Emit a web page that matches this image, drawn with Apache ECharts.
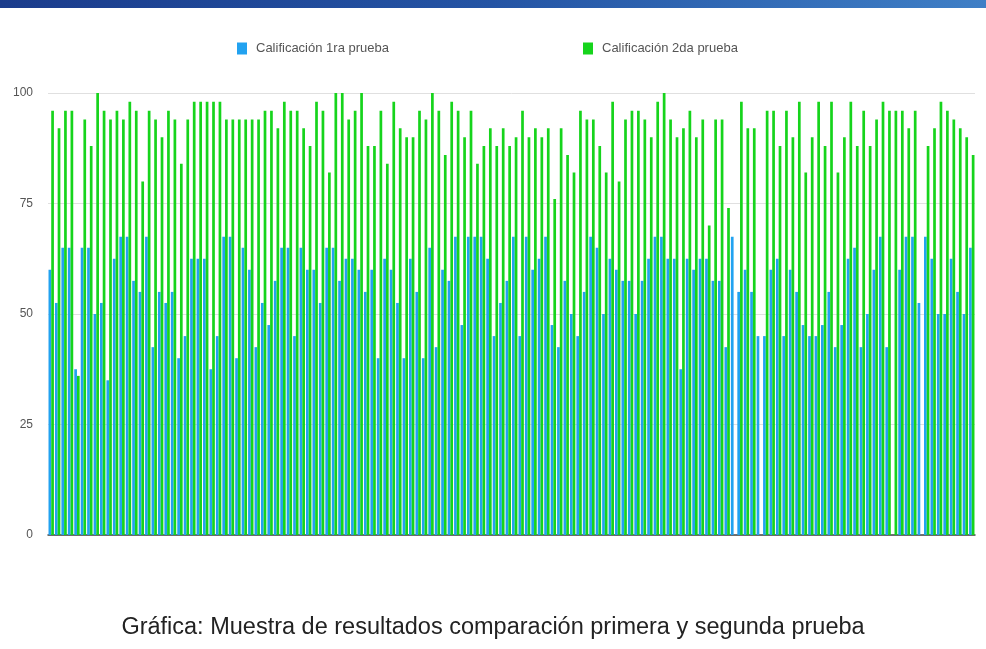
<!DOCTYPE html>
<html>
<head>
<meta charset="utf-8">
<script src="https://cdn.jsdelivr.net/npm/echarts@6/dist/echarts.min.js"></script>
<style>
  html, body { margin: 0; padding: 0; background: #fff; }
  #chart { width: 986px; height: 649px; }
</style>
</head>
<body>
<div id="chart"></div>
<script>
// one value per student
const primera = [
  60, 52.5, 65, 65, 37.5, 65, 65, 50, 52.5, 35, 62.5, 67.5, 67.5, 57.5, 55, 67.5, 42.5, 55, 52.5, 55, 40, 45,
  62.5, 62.5, 62.5, 37.5, 45, 67.5, 67.5, 40, 65, 60, 42.5, 52.5, 47.5, 57.5, 65, 65, 45, 65, 60, 60, 52.5, 65, 65, 57.5,
  62.5, 62.5, 60, 55, 60, 40, 62.5, 60, 52.5, 40, 62.5, 55, 40, 65, 42.5, 60, 57.5, 67.5, 47.5, 67.5, 67.5, 67.5, 62.5, 45,
  52.5, 57.5, 67.5, 45, 67.5, 60, 62.5, 67.5, 47.5, 42.5, 57.5, 50, 45, 55, 67.5, 65, 50, 62.5, 60, 57.5, 57.5, 50, 57.5, 62.5, 67.5,
  67.5, 62.5, 62.5, 37.5, 62.5, 60, 62.5, 62.5, 57.5, 57.5, 42.5, 67.5, 55, 60, 55, 45, 45, 60, 62.5, 45, 60, 55, 47.5, 45,
  45, 47.5, 55, 42.5, 47.5, 62.5, 65, 42.5, 50, 60, 67.5, 42.5, 0, 60, 67.5, 67.5, 52.5, 67.5, 62.5, 50, 50, 62.5, 55, 50, 65
]
const segunda = [
  96, 92, 96, 96, 36, 94, 88, 100, 96, 94, 96, 94, 98, 96, 80, 96, 94, 90, 96, 94, 84, 94,
  98, 98, 98, 98, 98, 94, 94, 94, 94, 94, 94, 96, 96, 92, 98, 96, 96, 92, 88, 98, 96, 82, 100, 100,
  94, 96, 100, 88, 88, 96, 84, 98, 92, 90, 90, 96, 94, 100, 96, 86, 98, 96, 90, 96, 84, 88, 92, 88,
  92, 88, 90, 96, 90, 92, 90, 92, 76, 92, 86, 82, 96, 94, 94, 88, 82, 98, 80, 94, 96, 96, 94, 90, 98,
  100, 94, 90, 92, 96, 90, 94, 70, 94, 94, 74, 0, 98, 92, 92, 0, 96, 96, 88, 96, 90, 98, 82, 90,
  98, 88, 98, 82, 90, 98, 88, 96, 88, 94, 98, 96, 96, 96, 92, 96, 0, 88, 92, 98, 96, 94, 92, 90, 86
]
const categories = primera.map((v, i) => String(i + 1))
const seriesNames = ['Calificación 1ra prueba', 'Calificación 2da prueba']
const caption = 'Gráfica: Muestra de resultados comparación primera y segunda prueba'

const chart = echarts.init(document.getElementById('chart'))

const legendText = {
  color: '#555',
  fontSize: 13,
  fontFamily: 'Liberation Sans, Arial, sans-serif',
  padding: [0, 0, 0, 4]
}

const option = {
  animation: false,
  backgroundColor: '#fff',
  graphic: [
    {
      type: 'rect',
      left: 0,
      top: 0,
      shape: { width: 986, height: 8 },
      style: {
        fill: new echarts.graphic.LinearGradient(0, 0, 1, 0, [
          { offset: 0, color: '#1b3c8c' },
          { offset: 0.5, color: '#2454a4' },
          { offset: 1, color: '#3f7fc6' }
        ])
      },
      silent: true
    }
  ],
  title: {
    text: caption,
    left: 'center',
    top: 611,
    textStyle: {
      color: '#222',
      fontSize: 23.5,
      fontWeight: 'normal',
      fontFamily: 'Liberation Sans Narrow, Liberation Sans, Arial, sans-serif'
    }
  },
  legend: [
    {
      data: [seriesNames[0]],
      left: 232,
      top: 37,
      itemWidth: 10,
      itemHeight: 12,
      icon: 'rect',
      textStyle: legendText
    },
    {
      data: [seriesNames[1]],
      left: 578,
      top: 37,
      itemWidth: 10,
      itemHeight: 12,
      icon: 'rect',
      textStyle: legendText
    }
  ],
  grid: {
    left: 48,
    right: 11,
    top: 93,
    bottom: 114,
    containLabel: false
  },
  xAxis: {
    type: 'category',
    data: categories,
    axisLine: { lineStyle: { color: '#444', width: 1.5 } },
    axisTick: { show: false },
    axisLabel: { show: false }
  },
  yAxis: {
    type: 'value',
    min: 0,
    max: 100,
    interval: 25,
    axisLine: { show: false },
    axisTick: { show: false },
    axisLabel: {
      color: '#555',
      fontSize: 12,
      margin: 15,
      fontFamily: 'Liberation Sans, Arial, sans-serif'
    },
    splitLine: { lineStyle: { color: '#e0e0e0', width: 1 } }
  },
  series: [
    {
      name: seriesNames[0],
      type: 'bar',
      data: primera,
      barGap: '0%',
      barCategoryGap: '16%',
      itemStyle: { color: '#22a2f0' }
    },
    {
      name: seriesNames[1],
      type: 'bar',
      data: segunda,
      itemStyle: { color: '#16d41c' }
    }
  ],
  color: ['#22a2f0', '#16d41c']
}

chart.setOption(option)
window.addEventListener('resize', () => chart.resize())
</script>
</body>
</html>
